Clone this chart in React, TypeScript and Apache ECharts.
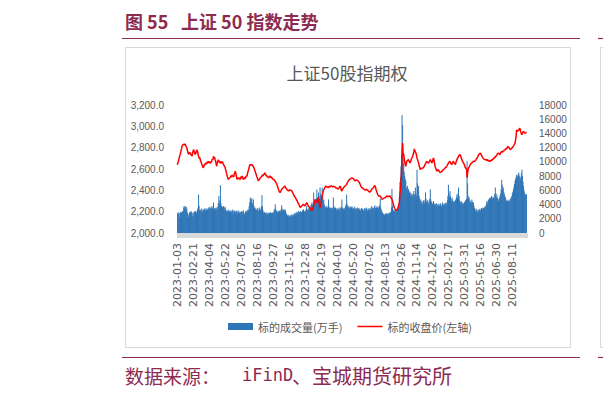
import React, { useEffect, useRef } from "react";
import * as echarts from "echarts";

// Exchange holidays (weekdays closed) used to build the trading-day categories
const HOLIDAYS: string[] = [
  "2023-01-02", "2023-01-23", "2023-01-24", "2023-01-25", "2023-01-26", "2023-01-27",
  "2023-04-05", "2023-05-01", "2023-05-02", "2023-05-03", "2023-06-22", "2023-06-23",
  "2023-09-29", "2023-10-02", "2023-10-03", "2023-10-04", "2023-10-05", "2023-10-06",
  "2024-01-01", "2024-02-09", "2024-02-12", "2024-02-13", "2024-02-14", "2024-02-15", "2024-02-16",
  "2024-04-04", "2024-04-05", "2024-05-01", "2024-05-02", "2024-05-03", "2024-06-10",
  "2024-09-16", "2024-09-17", "2024-10-01", "2024-10-02", "2024-10-03", "2024-10-04", "2024-10-07",
  "2025-01-01", "2025-01-28", "2025-01-29", "2025-01-30", "2025-01-31", "2025-02-03", "2025-02-04",
  "2025-04-04", "2025-05-01", "2025-05-02", "2025-05-05", "2025-06-02",
];

// 标的收盘价(左轴)
const PRICE: number[] = [
  2640, 2655, 2668, 2690, 2712, 2730, 2745, 2770, 2790, 2812,
  2828, 2822, 2835, 2826, 2830, 2834, 2818, 2808, 2797, 2776,
  2755, 2738, 2745, 2758, 2750, 2736, 2742, 2720, 2728, 2755,
  2772, 2781, 2760, 2745, 2735, 2752, 2768, 2781, 2762, 2740,
  2719, 2700, 2712, 2688, 2675, 2662, 2645, 2632, 2620, 2611,
  2630, 2645, 2638, 2657, 2645, 2662, 2650, 2672, 2660, 2673,
  2655, 2668, 2650, 2672, 2662, 2680, 2695, 2688, 2719, 2700,
  2712, 2690, 2670, 2648, 2626, 2652, 2672, 2688, 2666, 2675,
  2655, 2668, 2650, 2673, 2662, 2668, 2648, 2652, 2630, 2625,
  2611, 2590, 2570, 2549, 2530, 2515, 2502, 2510, 2516, 2518,
  2525, 2538, 2522, 2545, 2530, 2540, 2525, 2555, 2562, 2580,
  2555, 2532, 2502, 2515, 2505, 2520, 2508, 2515, 2500, 2518,
  2528, 2512, 2535, 2515, 2502, 2515, 2505, 2522, 2510, 2530,
  2533, 2535, 2560, 2580, 2595, 2618, 2635, 2642, 2636, 2640,
  2642, 2635, 2630, 2626, 2610, 2595, 2580, 2565, 2550, 2533,
  2520, 2505, 2490, 2487, 2500, 2510, 2518, 2522, 2528, 2533,
  2545, 2535, 2552, 2545, 2566, 2555, 2548, 2535, 2540, 2525,
  2530, 2515, 2528, 2520, 2538, 2522, 2530, 2512, 2520, 2505,
  2505, 2502, 2496, 2490, 2487, 2478, 2466, 2456, 2440, 2425,
  2409, 2395, 2385, 2378, 2390, 2398, 2409, 2415, 2420, 2425,
  2430, 2435, 2440, 2430, 2420, 2412, 2409, 2402, 2398, 2394,
  2400, 2405, 2409, 2402, 2398, 2394, 2385, 2375, 2363, 2352,
  2342, 2336, 2332, 2320, 2310, 2301, 2290, 2280, 2270, 2260,
  2248, 2239, 2245, 2250, 2254, 2260, 2265, 2270, 2262, 2258,
  2254, 2265, 2275, 2285, 2275, 2265, 2254, 2248, 2242, 2239,
  2230, 2218, 2210, 2208, 2225, 2240, 2254, 2275, 2295, 2316,
  2305, 2295, 2285, 2300, 2318, 2332, 2300, 2265, 2239, 2260,
  2290, 2316, 2345, 2370, 2394, 2405, 2415, 2425, 2432, 2436,
  2440, 2432, 2428, 2425, 2430, 2436, 2440, 2432, 2438, 2444,
  2440, 2436, 2430, 2438, 2442, 2435, 2434, 2428, 2422, 2418,
  2420, 2416, 2412, 2415, 2425, 2435, 2440, 2420, 2400, 2394,
  2405, 2415, 2425, 2430, 2436, 2440, 2445, 2450, 2456, 2468,
  2478, 2487, 2494, 2500, 2505, 2502, 2510, 2514, 2518, 2512,
  2508, 2509, 2500, 2492, 2487, 2492, 2498, 2502, 2495, 2490,
  2487, 2480, 2470, 2460, 2448, 2436, 2428, 2425, 2420, 2415,
  2412, 2408, 2405, 2403, 2406, 2408, 2409, 2402, 2398, 2394,
  2388, 2382, 2378, 2390, 2400, 2409, 2415, 2420, 2425, 2432,
  2440, 2446, 2430, 2410, 2394, 2380, 2365, 2355, 2347, 2350,
  2348, 2347, 2338, 2328, 2316, 2318, 2320, 2322, 2326, 2330,
  2332, 2336, 2340, 2347, 2344, 2342, 2341, 2343, 2345, 2347,
  2340, 2332, 2324, 2316, 2300, 2280, 2260, 2245, 2232, 2223,
  2218, 2212, 2208, 2215, 2232, 2250, 2262, 2290, 2370, 2400,
  2490, 2575, 2760, 2843, 2720, 2740, 2700, 2668, 2640, 2626,
  2650, 2673, 2680, 2684, 2688, 2675, 2665, 2657, 2670, 2685,
  2700, 2710, 2722, 2735, 2760, 2788, 2770, 2760, 2750, 2730,
  2704, 2690, 2672, 2657, 2635, 2615, 2595, 2602, 2608, 2611,
  2605, 2610, 2611, 2620, 2630, 2642, 2650, 2660, 2673, 2665,
  2660, 2658, 2657, 2668, 2678, 2688, 2675, 2665, 2657, 2670,
  2690, 2704, 2680, 2650, 2626, 2610, 2595, 2580, 2585, 2590,
  2595, 2585, 2575, 2568, 2564, 2570, 2575, 2580, 2585, 2590,
  2595, 2600, 2605, 2611, 2615, 2620, 2626, 2635, 2645, 2657,
  2662, 2668, 2673, 2660, 2650, 2642, 2650, 2660, 2673, 2665,
  2655, 2648, 2642, 2660, 2675, 2688, 2700, 2710, 2719, 2728,
  2732, 2735, 2720, 2705, 2688, 2678, 2668, 2657, 2650, 2640,
  2620, 2611, 2605, 2600, 2518, 2560, 2595, 2611, 2620, 2630,
  2642, 2648, 2652, 2657, 2662, 2668, 2673, 2670, 2672, 2673,
  2680, 2690, 2698, 2704, 2715, 2725, 2735, 2740, 2745, 2750,
  2740, 2730, 2719, 2710, 2702, 2695, 2692, 2690, 2688, 2688,
  2692, 2680, 2690, 2675, 2684, 2670, 2680, 2668, 2682, 2676,
  2688, 2680, 2695, 2688, 2705, 2698, 2714, 2708, 2725, 2718,
  2735, 2742, 2746, 2750, 2745, 2740, 2735, 2748, 2758, 2766,
  2770, 2758, 2772, 2765, 2782, 2775, 2790, 2782, 2800, 2792,
  2805, 2810, 2812, 2800, 2790, 2781, 2785, 2790, 2797, 2802,
  2808, 2812, 2822, 2832, 2843, 2870, 2905, 2967, 2960, 2955,
  2952, 2965, 2975, 2983, 2965, 2945, 2930, 2921, 2935, 2945,
  2952, 2948, 2940, 2936, 2938, 2940, 2943,
];

// 标的成交量(万手)
const VOLUME: number[] = [
  2850, 2700, 2900, 2750, 2200, 2800, 2950, 2700, 2850, 3000,
  3100, 2900, 3600, 3800, 3500, 3750, 3300, 3650, 3400, 2900,
  2600, 2200, 2700, 2900, 3000, 2850, 3100, 2950, 2800, 2400,
  2200, 2900, 3050, 2850, 3000, 3100, 2800, 2950, 3300, 3600,
  5400, 3800, 3200, 3000, 3300, 3100, 3450, 2900, 3200, 3350,
  3000, 3300, 3500, 3150, 2950, 3400, 3250, 3300, 3550, 3400,
  3700, 3300, 3500, 3600, 3450, 3800, 3400, 3600, 4300, 3500,
  3350, 3500, 3300, 3600, 3400, 3200, 3700, 4200, 5200, 4100,
  4600, 6700, 4200, 3800, 3600, 3700, 3500, 3800, 3600, 3400,
  3700, 3300, 3100, 3000, 3200, 2900, 3100, 3300, 3000, 2800,
  3100, 3200, 2900, 3000, 3300, 3100, 2750, 3000, 3200, 3000,
  2900, 3100, 3000, 2700, 3200, 2900, 3050, 2850, 2600, 3000,
  2900, 3100, 2800, 3000, 3200, 2900, 2700, 2450, 3000, 3100,
  2900, 3200, 3100, 3350, 3200, 3800, 4300, 5000, 4600, 4800,
  4900, 4200, 3900, 4700, 3800, 3500, 3600, 3300, 3400, 3200,
  3300, 3500, 3100, 3200, 3600, 3350, 3200, 3400, 3800, 5300,
  3700, 3200, 2900, 2800, 2950, 2700, 2850, 2600, 2900, 2750,
  2800, 2650, 2900, 2700, 2800, 2950, 2650, 2800, 2700, 2900,
  2750, 3000, 3200, 3400, 4050, 3300, 3100, 3000, 2900, 3150,
  3000, 2900, 3100, 3200, 3000, 3300, 3900, 3400, 3100, 3200,
  3350, 3100, 3300, 3200, 2900, 2700, 2500, 2400, 2600, 2300,
  2500, 2350, 2200, 2450, 2600, 2300, 2500, 2650, 2400, 2550,
  2700, 2800, 2600, 2900, 2750, 3000, 2850, 2900, 3100, 2800,
  2950, 3100, 2900, 3000, 2850, 3200, 3000, 3350, 3100, 2950,
  3000, 3200, 3400, 3800, 3300, 3100, 3300, 3500, 3400, 3700,
  3600, 3900, 4100, 4300, 4000, 3800, 5700, 4500, 4200, 4700,
  4400, 4800, 6100, 5000, 4600, 5700, 5200, 4800, 6400, 5500,
  4800, 5200, 6400, 5300, 4500, 4700, 4000, 3800, 3600, 3700,
  3500, 3800, 3600, 3400, 4700, 3700, 3500, 3400, 3600, 3300,
  3500, 3400, 3600, 5000, 3800, 3500, 3300, 3600, 3400, 3200,
  3500, 3300, 3100, 3400, 3600, 3200, 3300, 3500, 3700, 4700,
  3600, 3400, 3300, 3500, 3300, 3600, 3800, 4100, 5400, 4000,
  3700, 3500, 3800, 3600, 3400, 3700, 3500, 3600, 3800, 3400,
  3500, 3300, 3600, 3700, 3400, 3200, 3500, 3300, 3600, 3400,
  3300, 3500, 3200, 3400, 3100, 3300, 3500, 3200, 3400, 3300,
  3100, 3300, 3500, 3200, 3400, 3600, 3300, 3100, 3400, 3200,
  3500, 3300, 3100, 3400, 3600, 3800, 3500, 3300, 3600, 3400,
  3700, 3900, 3500, 3300, 3600, 3800, 3500, 3400, 3700, 3600,
  3900, 4800, 3600, 3300, 3100, 2900, 2800, 2600, 2700, 2500,
  2600, 2750, 2500, 2800, 2650, 2700, 2550, 2800, 2900, 2650,
  2800, 3000, 3600, 6200, 3800, 3300, 3100, 3200, 3000, 3300,
  3100, 3000, 3200, 3400, 3300, 3600, 4200, 5200, 7200, 7800,
  9400, 11000, 16600, 15200, 11300, 9800, 8600, 8000, 7600, 7300,
  6400, 6000, 6600, 5700, 6200, 5900, 5600, 5800, 5300, 5600,
  5200, 5500, 5000, 5400, 5900, 5400, 5100, 6400, 5600, 5200,
  8900, 7000, 6000, 6600, 5200, 4800, 4400, 4700, 4200, 4500,
  4000, 4300, 4600, 4400, 4200, 4700, 5700, 4800, 4400, 4200,
  4600, 4300, 4100, 4500, 4800, 6100, 4700, 4400, 4200, 4000,
  4300, 4500, 4200, 4000, 3900, 4100, 3800, 4200, 4000, 3700,
  3900, 4100, 3800, 4000, 4200, 3900, 3700, 4000, 4300, 3800,
  4000, 4200, 3900, 4100, 4300, 4000, 4200, 4600, 5200, 6800,
  5600, 5000, 5900, 5200, 4800, 4500, 5000, 4600, 4400, 4300,
  4500, 4300, 4700, 4500, 5000, 5400, 5000, 5600, 6400, 5200,
  4600, 4400, 4200, 4500, 4100, 4300, 3900, 4200, 4000, 4400,
  4200, 4600, 4300, 4800, 10100, 7000, 5200, 4800, 5000, 4600,
  4300, 4500, 4200, 4700, 4400, 4100, 4300, 3800, 3500, 3300,
  3100, 3400, 3000, 3200, 2900, 3300, 3000, 3200, 3400, 3100,
  3300, 3500, 3200, 3400, 3600, 3500, 3300, 3600, 3800, 3700,
  4000, 4500, 4200, 4400, 4700, 4500, 4900, 4600, 5000, 4800,
  5200, 4700, 4900, 5100, 5000, 4800, 5500, 6400, 5600, 5000,
  5400, 5000, 4700, 4500, 4800, 5000, 5300, 5600, 6200, 7500,
  6800, 6000, 6400, 5800, 5500, 5200, 5000, 4700, 4500, 4400,
  4600, 4300, 4500, 4700, 4400, 4600, 4900, 5000, 5200, 5600,
  5800, 6100, 6500, 6900, 7300, 7600, 7900, 8200, 7800, 8000,
  8300, 8500, 8100, 7800, 7500, 7900, 8400, 8900, 8000, 7200,
  6600, 6000, 5700, 5400, 5300, 5500, 5400,
];

function buildTradingDays(n: number): string[] {
  const out: string[] = [];
  const d = new Date(Date.UTC(2023, 0, 3));
  while (out.length < n) {
    const dow = d.getUTCDay();
    const s = d.toISOString().slice(0, 10);
    if (dow !== 0 && dow !== 6 && HOLIDAYS.indexOf(s) < 0) out.push(s);
    d.setUTCDate(d.getUTCDate() + 1);
  }
  return out;
}

const DATES = buildTradingDays(PRICE.length);

const MAROON = "#8E2B50";
const GRAY_TXT = "#595959";

export default function App() {
  const ref = useRef<HTMLDivElement>(null);
  useEffect(() => {
    if (!ref.current) return;
    const chart = echarts.init(ref.current, null, { renderer: "svg" });
    chart.setOption({
      animation: false,
      backgroundColor: "#ffffff",
      graphic: [
        { type: "rect", z: -10, shape: { x: 125.5, y: 47.5, width: 445, height: 300 }, style: { fill: "#ffffff", stroke: "#D9D9D9", lineWidth: 1 } },
        { type: "text", x: 125, y: 21, style: { text: "图 55", fontSize: 18, fontWeight: "bold", fontFamily: "Noto Sans CJK SC", fill: MAROON, textVerticalAlign: "middle" } },
        { type: "text", x: 181, y: 21, style: { text: "上证 50 指数走势", fontSize: 18, fontWeight: "bold", fontFamily: "Noto Sans CJK SC", fill: MAROON, textVerticalAlign: "middle" } },
        { type: "line", shape: { x1: 122, y1: 38.5, x2: 580, y2: 38.5 }, style: { stroke: MAROON, lineWidth: 1.2 } },
        { type: "line", shape: { x1: 598, y1: 38.5, x2: 603, y2: 38.5 }, style: { stroke: MAROON, lineWidth: 1.2 } },
        { type: "rect", shape: { x: 600.5, y: 47.5, width: 20, height: 300 }, style: { fill: "#ffffff", stroke: "#D9D9D9", lineWidth: 1 } },
        { type: "text", x: 347, y: 72, style: { text: "上证50股指期权", fontSize: 17, fontFamily: "Noto Sans CJK SC", fill: GRAY_TXT, textAlign: "center", textVerticalAlign: "middle" } },
        { type: "line", shape: { x1: 122, y1: 357.5, x2: 580, y2: 357.5 }, style: { stroke: MAROON, lineWidth: 1.2 } },
        { type: "line", shape: { x1: 598, y1: 357.5, x2: 603, y2: 357.5 }, style: { stroke: MAROON, lineWidth: 1.2 } },
        { type: "text", x: 125, y: 375, style: { text: "数据来源：", fontSize: 19, fontFamily: "Noto Sans CJK SC", fill: MAROON, textVerticalAlign: "middle" } },
        { type: "text", x: 242, y: 375, style: { text: "iFinD", fontSize: 17, fontFamily: "DejaVu Sans Mono", fill: MAROON, textVerticalAlign: "middle" } },
        { type: "text", x: 292, y: 375, style: { text: "、宝城期货研究所", fontSize: 20, fontFamily: "Noto Sans CJK SC", fill: MAROON, textVerticalAlign: "middle" } },
      ],
      legend: {
        left: 223,
        top: 316,
        itemWidth: 25,
        itemHeight: 7,
        itemGap: 15,
        textStyle: { fontSize: 11, color: GRAY_TXT, fontFamily: "Noto Sans CJK SC" },
        data: [
          { name: "标的成交量(万手)", icon: "rect" },
          { name: "标的收盘价(左轴)", icon: "path://M0,0L50,0L50,3L0,3Z" },
        ],
      },
      grid: { left: 177, right: 76, top: 105, bottom: 161 },
      xAxis: {
        type: "category",
        data: DATES,
        boundaryGap: true,
        axisLine: { show: true, lineStyle: { color: "#D9D9D9", width: 1 } },
        axisTick: { show: true, interval: 0, length: 5, lineStyle: { color: "#D9D9D9", width: 1 } },
        axisLabel: { interval: 29, rotate: 90, fontSize: 11, color: GRAY_TXT, fontFamily: "DejaVu Sans", margin: 10 },
      },
      yAxis: [
        {
          type: "value",
          position: "left",
          min: 2000,
          max: 3200,
          interval: 200,
          splitLine: { show: false },
          axisLine: { show: false },
          axisTick: { show: false },
          axisLabel: {
            margin: 13,
            fontSize: 10,
            color: GRAY_TXT,
            fontFamily: "Liberation Sans",
            formatter: (v: number) => v.toLocaleString("en-US", { minimumFractionDigits: 1, maximumFractionDigits: 1 }),
          },
        },
        {
          type: "value",
          position: "right",
          min: 0,
          max: 18000,
          interval: 2000,
          splitLine: { show: false },
          axisLine: { show: false },
          axisTick: { show: false },
          axisLabel: { margin: 12, fontSize: 10, color: GRAY_TXT, fontFamily: "Liberation Sans", formatter: (v: number) => String(v) },
        },
      ],
      series: [
        {
          name: "标的成交量(万手)",
          type: "bar",
          yAxisIndex: 1,
          data: VOLUME,
          barWidth: 1,
          itemStyle: { color: "#2E75B6" },
        },
        {
          name: "标的收盘价(左轴)",
          type: "line",
          yAxisIndex: 0,
          data: PRICE,
          symbol: "none",
          showSymbol: false,
          lineStyle: { color: "#FF0000", width: 1.5 },
          itemStyle: { color: "#FF0000" },
          z: 3,
        },
      ],
    });
    return () => chart.dispose();
  }, []);
  return <div ref={ref} style={{ position: "absolute", left: 0, top: 0, width: 603, height: 394 }} />;
}
